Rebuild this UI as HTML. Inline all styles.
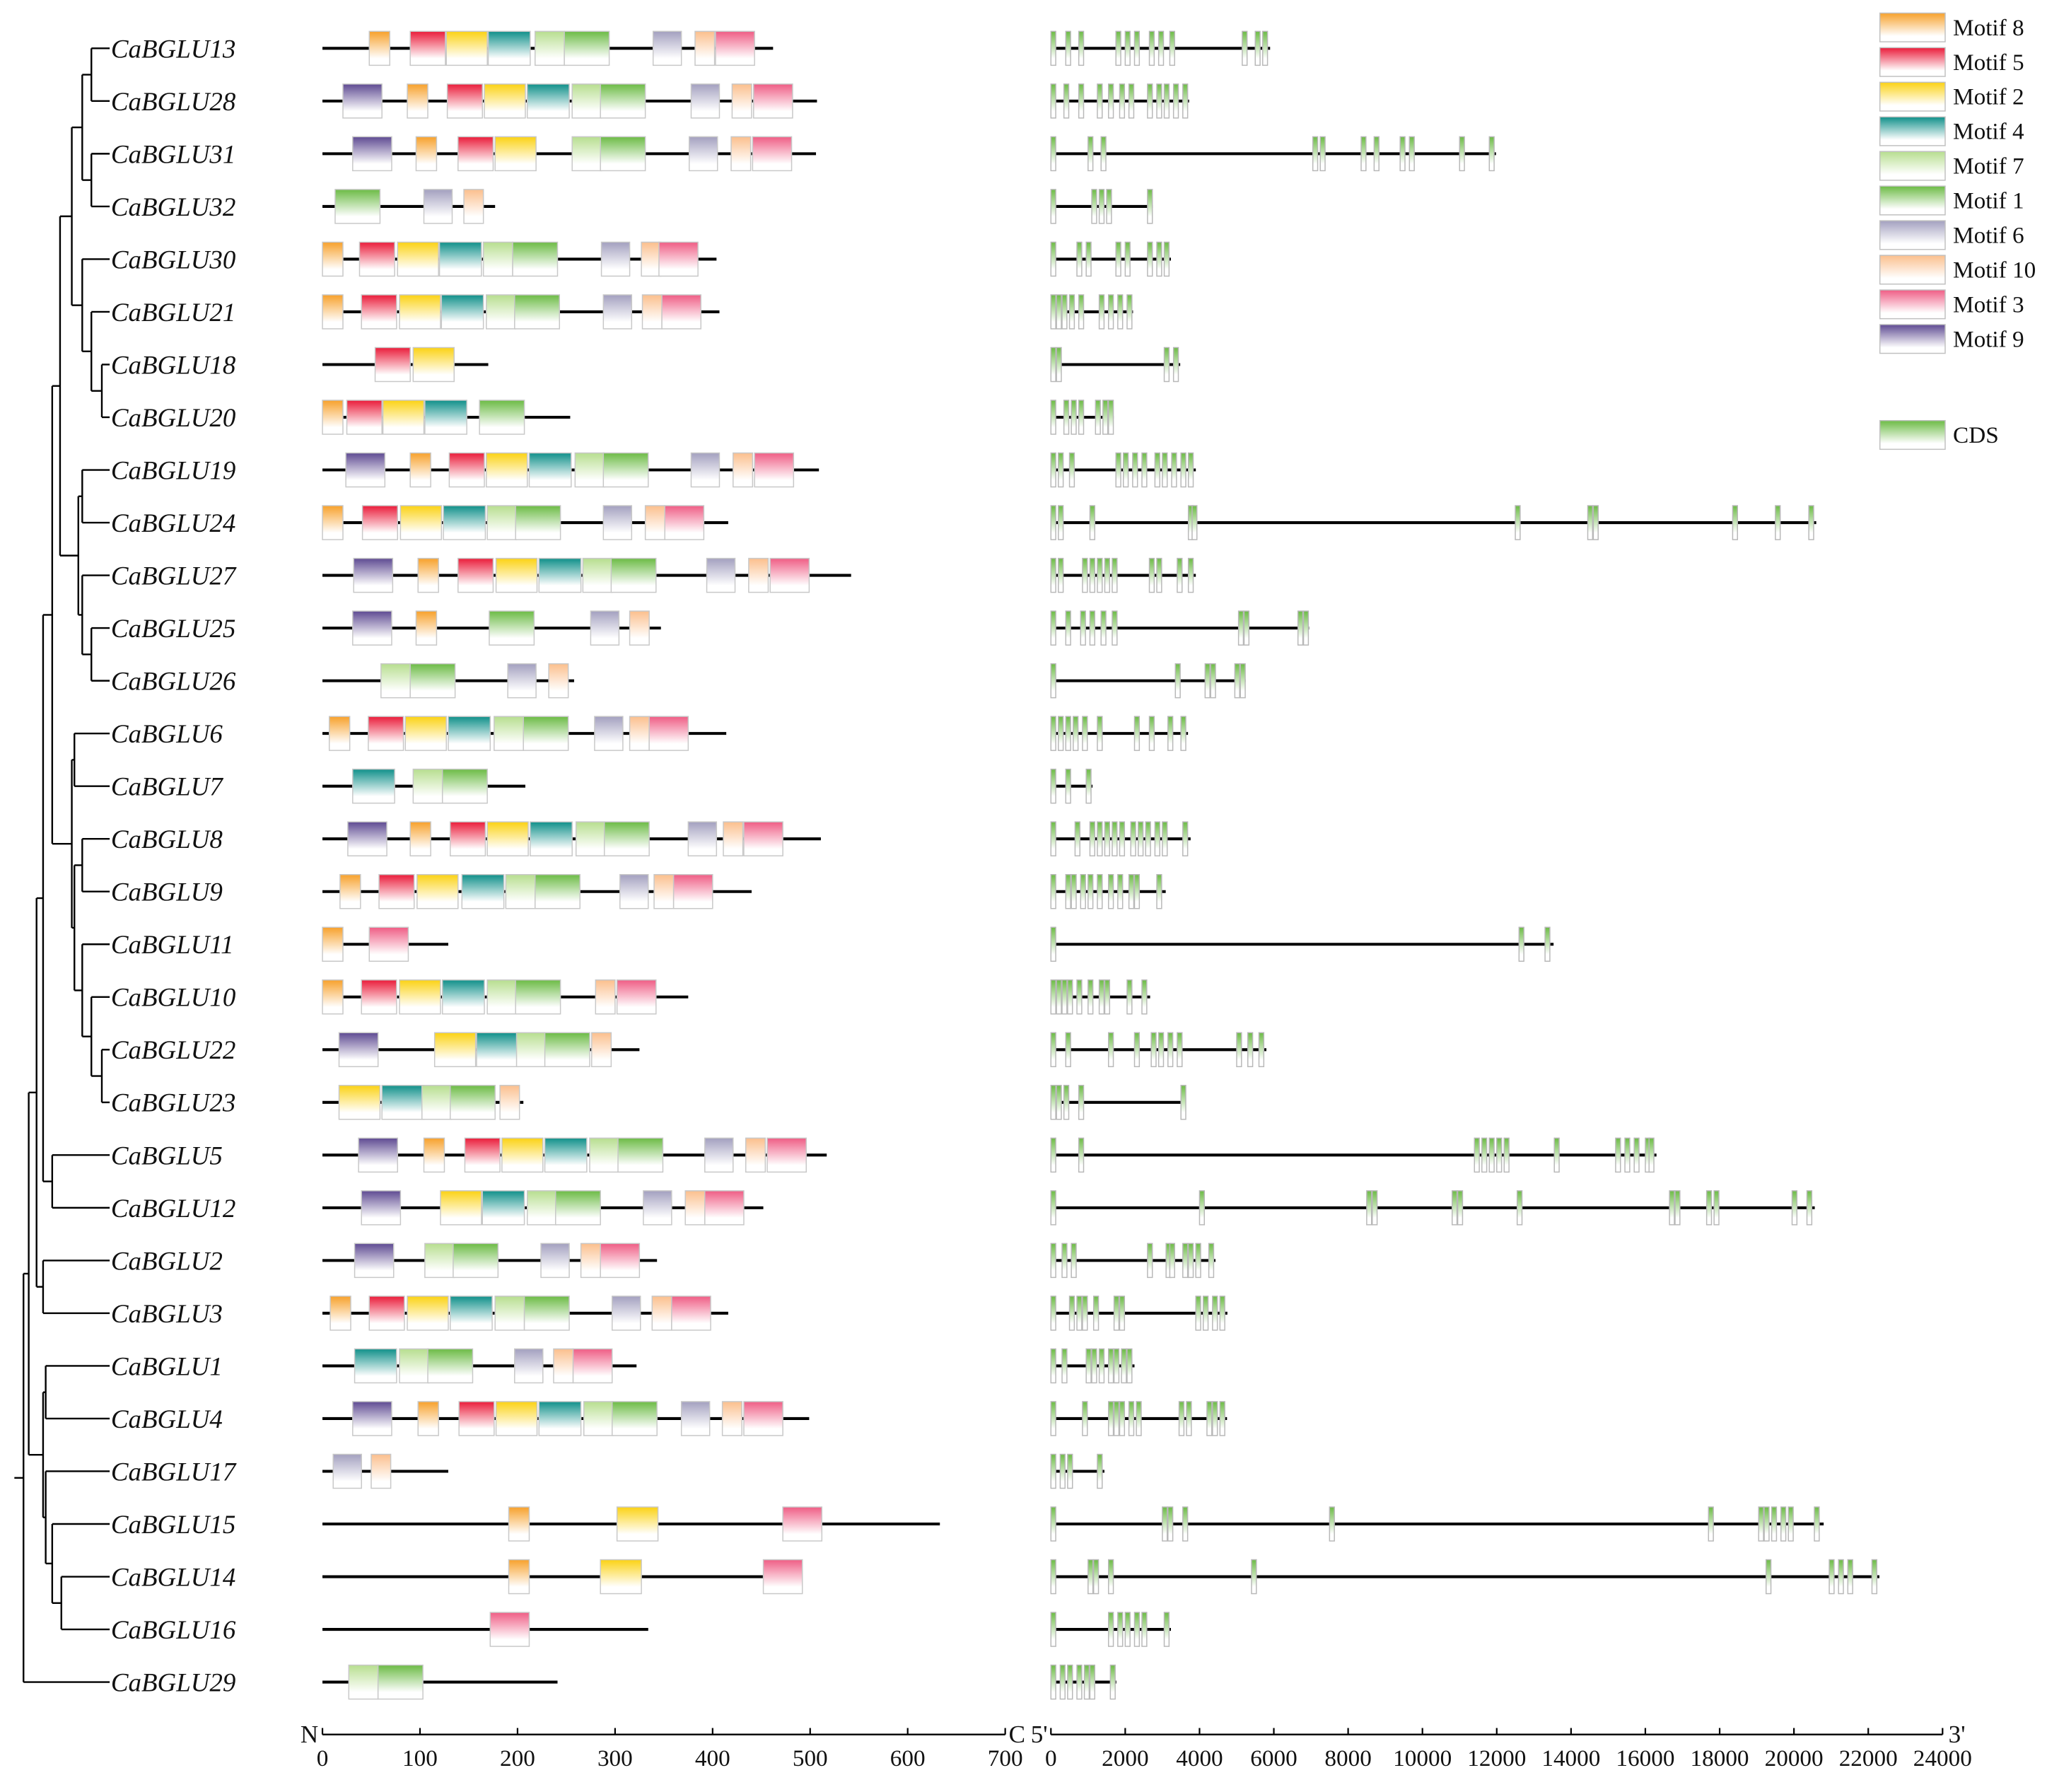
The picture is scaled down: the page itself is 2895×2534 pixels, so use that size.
<!DOCTYPE html>
<html><head><meta charset="utf-8"><style>
html,body{margin:0;padding:0;background:#fff;}
svg{display:block;}
text{font-family:"Liberation Serif",serif;fill:#111;}
</style></head><body>
<svg id="chart" xmlns="http://www.w3.org/2000/svg" width="2895" height="2534" viewBox="0 0 1568 1372" preserveAspectRatio="none">
<defs id="defs"></defs>
<g id="tree"></g>
<g id="labels"></g>
<g id="motifs"></g>
<g id="genes"></g>
<g id="axes"></g>
<g id="legend"></g>
</svg>
<script>
const geneNames=["CaBGLU13","CaBGLU28","CaBGLU31","CaBGLU32","CaBGLU30","CaBGLU21","CaBGLU18","CaBGLU20","CaBGLU19","CaBGLU24","CaBGLU27","CaBGLU25","CaBGLU26","CaBGLU6","CaBGLU7","CaBGLU8","CaBGLU9","CaBGLU11","CaBGLU10","CaBGLU22","CaBGLU23","CaBGLU5","CaBGLU12","CaBGLU2","CaBGLU3","CaBGLU1","CaBGLU4","CaBGLU17","CaBGLU15","CaBGLU14","CaBGLU16","CaBGLU29"];
const proteinLengths=[462,507,506,177,404,407,170,254,509,416,542,347,258,414,208,511,440,129,375,325,206,517,452,343,416,322,499,129,633,480,334,241];
const motifOrder=[8,5,2,4,7,1,6,10,3,9];
const motifColors={8:"#f7a12b",5:"#ea1c3a",2:"#fbd214",4:"#10908a",7:"#b7de8f",1:"#6cbb45",6:"#a3a0bf",10:"#fbbf8d",3:"#ef5d85",9:"#5e4a92"};
const motifLengths={8:21,5:36,2:42,4:43,7:30,1:46,6:29,10:20,3:40,9:40};
const motifHits=[
[[8,48],[5,90],[2,127],[4,170],[7,218],[1,248],[6,339],[10,382],[3,403]],
[[9,21],[8,87],[5,128],[2,166],[4,210],[7,256],[1,285],[6,378],[10,420],[3,442]],
[[9,31],[8,96],[5,139],[2,177],[7,256],[1,285],[6,376],[10,419],[3,441]],
[[1,13],[6,104],[10,145]],
[[8,0],[5,38],[2,77],[4,120],[7,165],[1,195],[6,286],[10,327],[3,345]],
[[8,0],[5,40],[2,79],[4,122],[7,168],[1,197],[6,288],[10,328],[3,348]],
[[5,54],[2,93]],
[[8,0],[5,25],[2,62],[4,105],[1,161]],
[[9,24],[8,90],[5,130],[2,168],[4,212],[7,259],[1,288],[6,378],[10,421],[3,443]],
[[8,0],[5,41],[2,80],[4,124],[7,169],[1,198],[6,288],[10,331],[3,351]],
[[9,32],[8,98],[5,139],[2,178],[4,222],[7,267],[1,296],[6,394],[10,437],[3,459]],
[[9,31],[8,96],[1,171],[6,275],[10,315]],
[[7,60],[1,90],[6,190],[10,232]],
[[8,7],[5,47],[2,85],[4,129],[7,176],[1,206],[6,279],[10,315],[3,335]],
[[4,31],[7,93],[1,123]],
[[9,26],[8,90],[5,131],[2,169],[4,213],[7,260],[1,289],[6,375],[10,411],[3,432]],
[[8,18],[5,58],[2,97],[4,143],[7,188],[1,218],[6,305],[10,340],[3,360]],
[[8,0],[3,48]],
[[8,0],[5,40],[2,79],[4,123],[7,169],[1,198],[10,280],[3,302]],
[[9,17],[2,115],[4,158],[7,199],[1,228],[10,276]],
[[2,17],[4,61],[7,102],[1,131],[10,182]],
[[9,37],[8,104],[5,146],[2,184],[4,228],[7,274],[1,303],[6,392],[10,434],[3,456]],
[[9,40],[2,121],[4,164],[7,210],[1,239],[6,329],[10,372],[3,392]],
[[9,33],[7,105],[1,134],[6,224],[10,265],[3,285]],
[[8,8],[5,48],[2,87],[4,131],[7,177],[1,207],[6,297],[10,338],[3,358]],
[[4,33],[7,79],[1,108],[6,197],[10,237],[3,257]],
[[9,31],[8,98],[5,140],[2,178],[4,222],[7,268],[1,297],[6,368],[10,410],[3,432]],
[[6,11],[10,50]],
[[8,191],[2,302],[3,472]],
[[8,191],[2,285],[3,452]],
[[3,172]],
[[7,27],[1,57]]
];
const geneLengths=[5900,3720,11980,2740,3230,2210,3480,1690,3900,20600,3900,6950,5240,3690,1120,3760,3090,13530,2670,5800,3620,16300,20560,4430,4750,2250,4740,1440,20800,22300,3230,1760];
const exonStarts=[
[0,400,750,1750,2000,2250,2650,2900,3200,5150,5500,5700],
[0,350,750,1250,1550,1850,2100,2600,2850,3050,3300,3550],
[0,1000,1350,7050,7250,8350,8700,9400,9650,11000,11800],
[0,1100,1300,1500,2600],
[0,700,950,1750,2000,2600,2850,3050],
[0,150,300,500,750,1300,1550,1800,2050],
[0,150,3050,3300],
[0,350,550,750,1200,1400,1550],
[0,200,500,1750,1950,2200,2450,2800,3000,3250,3500,3700],
[0,200,1050,3700,3800,12500,14450,14600,18350,19500,20400],
[0,200,850,1050,1250,1450,1650,2650,2850,3400,3700],
[0,400,800,1050,1350,1650,5050,5200,6650,6800],
[0,3350,4150,4300,4950,5100],
[0,200,400,600,850,1250,2250,2650,3150,3500],
[0,400,950],
[0,650,1050,1250,1450,1650,1850,2150,2350,2550,2800,3000,3550],
[0,400,550,800,1000,1250,1550,1800,2100,2250,2850],
[0,12600,13300],
[0,150,300,450,700,1000,1300,1450,2050,2450],
[0,400,1550,2250,2700,2900,3150,3400,5000,5300,5600],
[0,150,350,750,3500],
[0,750,11400,11600,11800,12000,12200,13550,15200,15450,15700,16000,16100],
[0,4000,8500,8650,10800,10950,12550,16650,16800,17650,17850,19950,20350],
[0,300,550,2600,3100,3200,3550,3700,3900,4250],
[0,500,700,850,1150,1700,1850,3900,4100,4350,4550],
[0,300,950,1100,1300,1550,1700,1900,2050],
[0,850,1550,1700,1850,2100,2300,3450,3650,4200,4350,4550],
[0,250,450,1250],
[0,3000,3150,3550,7500,17700,19050,19200,19400,19650,19850,20550],
[0,1000,1150,1550,5400,19250,20950,21200,21450,22100],
[0,1550,1800,2000,2250,2450,3050],
[0,250,450,700,900,1050,1600]
];
const exonLength=130;
const proteinTicks=[0,100,200,300,400,500,600,700];
const geneTicks=[0,2000,4000,6000,8000,10000,12000,14000,16000,18000,20000,22000,24000];
const treeData=[18,[[22,[[28,[[33,[[40,[[46,[[55,[[63,[[70,[0,1]],[70,[2,3]]]],[63,[4,[70,[5,[78,[6,7]]]]]]]],[60,[[63,[8,9]],[63,[10,[70,[11,12]]]]]]]],[55,[[57,[13,14]],[57,[[63,[15,16]],[63,[17,[70,[18,[78,[19,20]]]]]]]]]]]],[40,[21,22]]]],[33,[23,24]]]],[33,[[35,[25,26]],[35,[27,[40,[28,[47,[29,30]]]]]]]]]],31]];

const NS="http://www.w3.org/2000/svg";
const rowY=i=>37+i*40.35;
const pX=v=>247+v*(523/700);
const gX=v=>805+v*(683/24000);
const BH=26;
function mk(tag,attrs,parent){const e=document.createElementNS(NS,tag);for(const k in attrs)e.setAttribute(k,attrs[k]);parent.appendChild(e);return e;}

const defs=document.getElementById('defs');
const allGrad=Object.assign({},motifColors,{cds:"#6cbb45"});
for(const k in allGrad){
  const g=mk('linearGradient',{id:'g'+k,x1:0,y1:0,x2:0,y2:1},defs);
  mk('stop',{offset:'0',"stop-color":allGrad[k]},g);
  mk('stop',{offset:'0.8',"stop-color":"#ffffff"},g);
  mk('stop',{offset:'1',"stop-color":"#ffffff"},g);
}

const tree=document.getElementById('tree');
function drawNode(n,parentX){
  if(typeof n==='number'){
    const y=rowY(n);
    const l=mk('line',{x1:parentX,y1:y,x2:84,y2:y,stroke:'#000','stroke-width':1.3},tree);
    
    
    return y;
  }
  const x=n[0];
  const ys=n[1].map(c=>drawNode(c,x));
  const y0=Math.min(...ys),y1=Math.max(...ys);
  const v=mk('line',{x1:x,y1:y0,x2:x,y2:y1,stroke:'#000','stroke-width':1.3},tree);
  
  
  const ym=(y0+y1)/2;
  if(parentX!==null){
    const h=mk('line',{x1:parentX,y1:ym,x2:x,y2:ym,stroke:'#000','stroke-width':1.3},tree);
    
    
  }else{
    const h=mk('line',{x1:11,y1:ym,x2:x,y2:ym,stroke:'#000','stroke-width':1.3},tree);
    
    
  }
  return ym;
}
drawNode(treeData,null);

const labels=document.getElementById('labels');
const motifsG=document.getElementById('motifs');
const genesG=document.getElementById('genes');
geneNames.forEach((nm,i)=>{
  const y=rowY(i);
  const t=mk('text',{x:85,y:y+7,'font-size':20,'font-style':'italic'},labels);
  
  
  t.textContent=nm;
  const row=mk('g',{},motifsG);
  
  
  mk('line',{x1:pX(0),y1:y,x2:pX(proteinLengths[i]),y2:y,stroke:'#000','stroke-width':2.2},row);
  motifHits[i].forEach(h=>{
    const r=mk('rect',{x:pX(h[1]),y:y-BH/2,width:pX(h[1]+motifLengths[h[0]])-pX(h[1]),height:BH,fill:'url(#g'+h[0]+')',stroke:'#c8c8c8','stroke-width':0.8},row);
    
    
  });
  const gr=mk('g',{},genesG);
  
  
  mk('line',{x1:gX(0),y1:y,x2:gX(geneLengths[i]),y2:y,stroke:'#000','stroke-width':2.2},gr);
  exonStarts[i].forEach(s=>{
    const r=mk('rect',{x:gX(s),y:y-BH/2,width:gX(s+exonLength)-gX(s),height:BH,fill:'url(#gcds)',stroke:'#b8b8b8','stroke-width':0.8},gr);
    
    
  });
});

const axes=document.getElementById('axes');
const AY=1328;
function axis(name,ticks,f,lo,hi,leftLbl,rightLbl,lx,rx){
  const g=mk('g',{},axes);
  
  
  mk('line',{x1:f(lo),y1:AY,x2:f(hi),y2:AY,stroke:'#000','stroke-width':1.3},g);
  ticks.forEach(v=>{
    mk('line',{x1:f(v),y1:AY,x2:f(v),y2:AY-5,stroke:'#000','stroke-width':1.2},g);
    const t=mk('text',{x:f(v),y:AY+24,'font-size':18,'text-anchor':'middle'},g);
    
    
    t.textContent=v;
  });
  const a=mk('text',{x:lx,y:AY+6,'font-size':19,'text-anchor':'middle'},g);a.textContent=leftLbl;
  const b=mk('text',{x:rx,y:AY+6,'font-size':19,'text-anchor':'middle'},g);b.textContent=rightLbl;
}
axis('protein-axis',proteinTicks,pX,0,700,'N','C',237,779);
axis('gene-axis',geneTicks,gX,0,24000,"5'","3'",796,1499);

const lg=document.getElementById('legend');
motifOrder.forEach((m,i)=>{
  const y=10+i*26.5;
  const r=mk('rect',{x:1440,y:y,width:50,height:22,fill:'url(#g'+m+')',stroke:'#c0c0c0','stroke-width':0.8},lg);
  
  
  const t=mk('text',{x:1496,y:y+17,'font-size':18},lg);
  
  
  t.textContent='Motif '+m;
});
const cr=mk('rect',{x:1440,y:322,width:50,height:22,fill:'url(#gcds)',stroke:'#c0c0c0','stroke-width':0.8},lg);


const ct=mk('text',{x:1496,y:339,'font-size':18},lg);


ct.textContent='CDS';
</script>
</body></html>
